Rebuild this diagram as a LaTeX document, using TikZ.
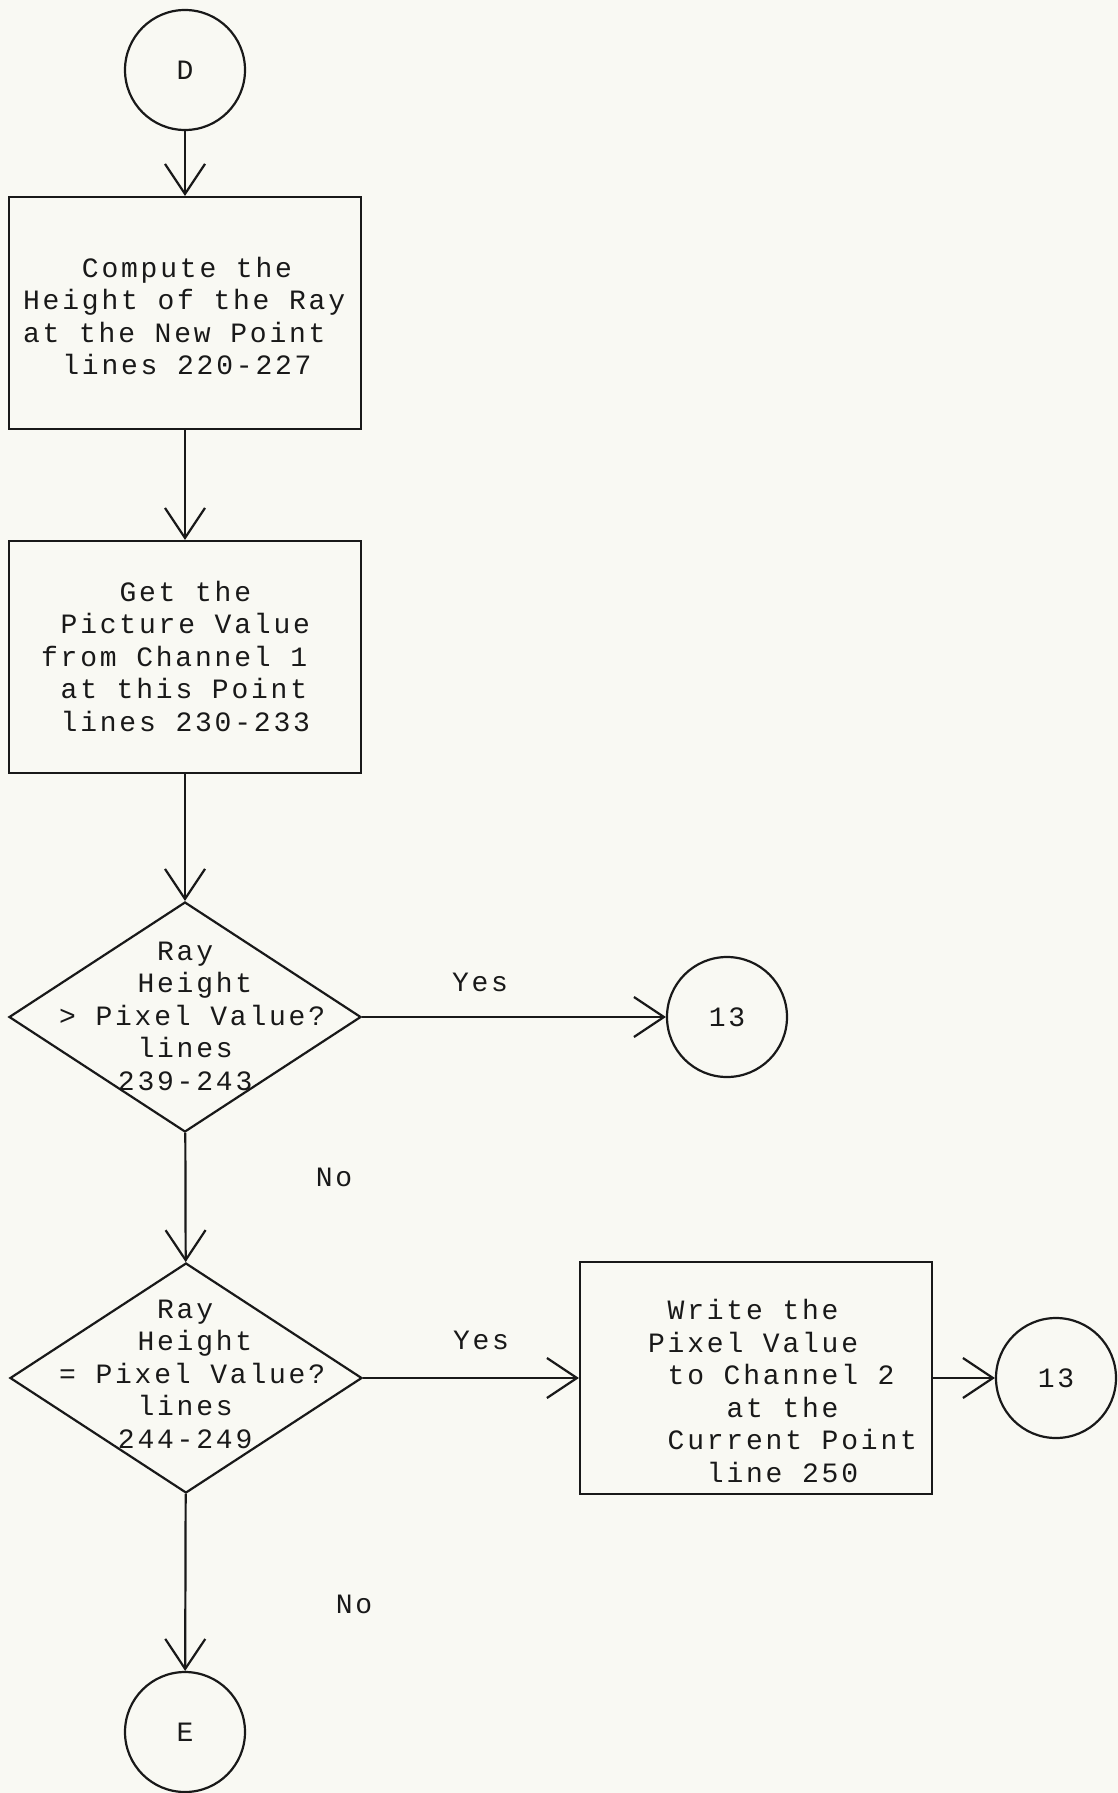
\documentclass[tikz,border=0pt]{standalone}
\usepackage{fontspec}
\newfontfamily\monof[LetterSpace=10]{Liberation Mono}
\usetikzlibrary{shapes.geometric,arrows.meta}
\newcommand\txtfont{\monof\fontsize{14pt}{16.25pt}\selectfont}
\newcommand\padc[1]{\setbox0\hbox{xx}\setbox2\hbox{x}\hspace*{#1\dimexpr\wd0-\wd2\relax}}
\definecolor{bg}{RGB}{249,249,243}
\definecolor{ink}{RGB}{25,25,25}
\begin{document}
\begin{tikzpicture}[x=0.5pt,y=-0.5pt,line width=1.1pt,
  every node/.style={inner sep=0pt},
  stepbox/.style={draw=ink, rectangle, minimum width=176pt, minimum height=116pt},
  decision/.style={draw=ink, diamond, minimum width=176pt, minimum height=115pt},
  connector/.style={draw=ink, circle, minimum size=60pt, font=\txtfont, text=ink},
  txt/.style={font=\txtfont, align=left, anchor=west, text=ink},
  lbl/.style={font=\txtfont, text=ink},
  flow/.style={draw=ink, -{Straight Barb[length=15pt,width=20pt]}}]
\fill[bg] (0,0) rectangle (1118,1793);
\useasboundingbox (0,0) rectangle (1118,1793);
% nodes
\node[connector] (D) at (185,70) {D};
\node[stepbox] (b1) at (185,313) {};
\node[txt] (b1t) at (22,316) {\padc{3}Compute the\\Height of the Ray\\at the New Point\\\padc{2}lines 220-227};
\node[stepbox] (b2) at (185,657) {};
\node[txt] (b2t) at (40,656) {\padc{4}Get the\\\padc{1}Picture Value\\from Channel 1\\\padc{1}at this Point\\\padc{1}lines 230-233};
\node[decision] (d1) at (185,1017) {};
\node[txt] (d1t) at (58,1016) {\padc{5}Ray\\\padc{4}Height\\> Pixel Value?\\\padc{4}lines\\\padc{3}239-243};
\node[connector] (c1) at (727,1017) {13};
\node[decision] (d2) at (186,1378) {};
\node[txt] (d2t) at (58,1374) {\padc{5}Ray\\\padc{4}Height\\= Pixel Value?\\\padc{4}lines\\\padc{3}244-249};
\node[stepbox] (b3) at (756,1378) {};
\node[txt] (b3t) at (647,1391) {\padc{1}Write the\\Pixel Value\\\padc{1}to Channel 2\\\padc{4}at the\\\padc{1}Current Point\\\padc{3}line 250};
\node[connector] (c2) at (1056,1378) {13};
\node[connector] (E) at (185,1732) {E};
% labels
\node[lbl] (y1) at (480,982) {Yes};
\node[lbl] (n1) at (334,1177) {No};
\node[lbl] (y2) at (481,1340) {Yes};
\node[lbl] (n2) at (354,1604) {No};
% connectors
\draw[flow] (D) -- (b1);
\draw[flow] (b1) -- (b2);
\draw[flow] (b2) -- (d1);
\draw[flow] (d1) -- (c1);
\draw[flow] (d1) -- (d2);
\draw[flow] (d2) -- (b3);
\draw[flow] (b3) -- (c2);
\draw[flow] (d2) -- (E);
\end{tikzpicture}
\end{document}
